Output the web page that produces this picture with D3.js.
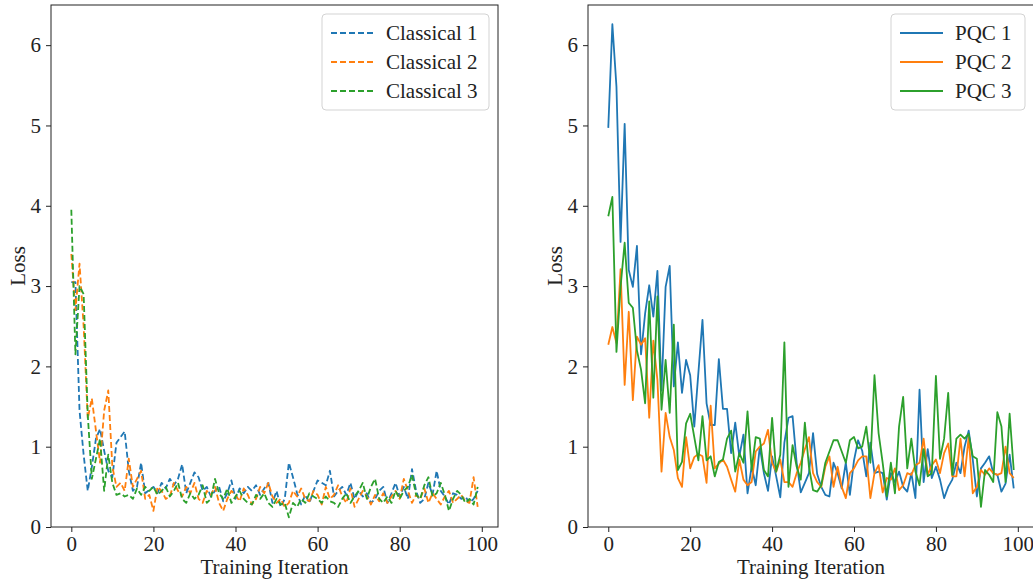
<!DOCTYPE html>
<html>
<head>
<meta charset="utf-8">
<script src="https://cdn.jsdelivr.net/npm/d3@7"></script>
<style>
  body { margin: 0; background: #fff; }
  svg { display: block; }
  .axis text { font-family: "Liberation Serif", "DejaVu Serif", serif; font-size: 21px; fill: #222; }
  .axis path, .axis line { stroke: #222; stroke-width: 1; }
  .title { font-family: "Liberation Serif", "DejaVu Serif", serif; font-size: 21px; fill: #222; }
  .legend text { font-family: "Liberation Serif", "DejaVu Serif", serif; font-size: 21px; fill: #222; }
</style>
</head>
<body>
<div id="vis"></div>
<script>
// Iterations 0..99
var iterations = d3.range(100);

// Left panel: classical models (dashed)
var classical1 = [3.05, 3.05, 1.45, 0.9, 0.45, 0.75, 1.1, 1.22, 0.95, 0.7, 0.62, 1.05, 1.12, 1.19, 0.7, 0.45, 0.5, 0.8, 0.42, 0.46,
    0.5, 0.42, 0.55, 0.48, 0.6, 0.52, 0.6, 0.78, 0.42, 0.55, 0.68, 0.62, 0.45, 0.5, 0.38, 0.45, 0.5, 0.32, 0.42, 0.58,
    0.35, 0.48, 0.42, 0.5, 0.45, 0.52, 0.4, 0.48, 0.55, 0.3, 0.45, 0.25, 0.35, 0.8, 0.62, 0.42, 0.28, 0.4, 0.3, 0.45,
    0.58, 0.55, 0.52, 0.7, 0.38, 0.45, 0.5, 0.4, 0.55, 0.35, 0.45, 0.38, 0.42, 0.3, 0.35, 0.45, 0.5, 0.3, 0.42, 0.55,
    0.38, 0.5, 0.35, 0.72, 0.45, 0.3, 0.35, 0.55, 0.4, 0.7, 0.45, 0.38, 0.28, 0.42, 0.4, 0.35, 0.38, 0.3, 0.35, 0.45];
var classical2 = [3.4, 2.7, 3.28, 2.5, 1.35, 1.6, 1.2, 0.8, 1.45, 1.7, 0.75, 0.5, 0.55, 0.45, 0.85, 0.5, 0.6, 0.7, 0.35, 0.4,
    0.2, 0.5, 0.45, 0.35, 0.38, 0.55, 0.45, 0.38, 0.5, 0.42, 0.55, 0.35, 0.3, 0.45, 0.4, 0.5, 0.3, 0.2, 0.35, 0.45,
    0.4, 0.32, 0.48, 0.4, 0.28, 0.35, 0.5, 0.42, 0.55, 0.38, 0.3, 0.35, 0.25, 0.3, 0.45, 0.38, 0.48, 0.35, 0.32, 0.45,
    0.4, 0.28, 0.5, 0.35, 0.4, 0.52, 0.38, 0.3, 0.48, 0.25, 0.35, 0.45, 0.38, 0.28, 0.4, 0.32, 0.42, 0.3, 0.38, 0.45,
    0.35, 0.6, 0.45, 0.3, 0.4, 0.35, 0.48, 0.3, 0.42, 0.35, 0.28, 0.38, 0.45, 0.3, 0.35, 0.4, 0.32, 0.3, 0.62, 0.25];
var classical3 = [3.95, 2.15, 3.0, 2.9, 1.4, 0.6, 0.85, 1.1, 0.45, 0.9, 0.55, 0.4, 0.42, 0.38, 0.4, 0.35, 0.48, 0.4, 0.5, 0.45,
    0.5, 0.4, 0.45, 0.5, 0.38, 0.45, 0.55, 0.35, 0.3, 0.42, 0.35, 0.4, 0.52, 0.3, 0.35, 0.6, 0.42, 0.35, 0.48, 0.3,
    0.38, 0.45, 0.35, 0.3, 0.28, 0.4, 0.35, 0.42, 0.3, 0.25, 0.35, 0.28, 0.3, 0.12, 0.3, 0.25, 0.35, 0.3, 0.42, 0.38,
    0.35, 0.3, 0.38, 0.32, 0.3, 0.25, 0.35, 0.42, 0.3, 0.38, 0.45, 0.55, 0.35, 0.5, 0.6, 0.35, 0.3, 0.38, 0.3, 0.45,
    0.35, 0.45, 0.5, 0.65, 0.4, 0.35, 0.52, 0.62, 0.38, 0.42, 0.55, 0.4, 0.2, 0.35, 0.45, 0.4, 0.3, 0.35, 0.28, 0.5];

// Right panel: PQC models (solid)
var pqc1 = [4.97, 6.26, 5.48, 3.55, 5.02, 3.2, 2.99, 3.5, 2.15, 2.66, 3.01, 2.62, 3.19, 1.7, 2.99, 3.25, 1.75, 2.3, 1.67, 2.08,
    1.89, 1.25, 1.92, 2.58, 1.54, 1.27, 1.27, 2.09, 1.47, 1.47, 0.92, 1.3, 0.88, 1.15, 0.42, 0.75, 0.52, 1.0, 0.67, 0.45,
    0.88, 0.63, 0.37, 1.05, 1.36, 1.38, 0.8, 0.43, 0.55, 0.67, 1.17, 0.66, 0.5, 0.4, 0.38, 0.8, 0.67, 0.48, 0.8, 0.4,
    0.83, 1.08, 0.95, 0.63, 1.05, 0.67, 0.69, 0.67, 0.34, 0.67, 0.56, 0.69, 0.5, 0.44, 0.67, 0.36, 1.71, 0.56, 0.97, 0.61,
    0.75, 0.59, 0.36, 0.5, 0.59, 0.8, 0.67, 1.0, 1.2, 0.84, 0.38, 0.73, 0.8, 0.88, 0.67, 0.65, 0.44, 0.54, 0.9, 0.48];
var pqc2 = [2.27, 2.49, 2.29, 3.21, 1.77, 2.68, 1.58, 2.37, 2.27, 2.35, 1.36, 2.32, 1.83, 0.69, 1.42, 1.12, 0.96, 0.61, 0.5, 1.12,
    0.73, 0.87, 0.91, 0.88, 0.55, 1.51, 0.73, 0.79, 0.84, 0.75, 0.59, 0.44, 0.84, 0.59, 0.52, 0.56, 0.94, 1.0, 1.04, 1.21,
    0.8, 0.69, 0.84, 0.56, 0.56, 0.5, 0.67, 0.8, 0.97, 1.12, 0.67, 0.56, 0.5, 0.75, 0.88, 0.5, 0.75, 0.5, 0.36, 0.67,
    0.73, 0.83, 0.88, 0.88, 0.36, 0.67, 0.77, 0.43, 0.61, 0.59, 0.73, 0.46, 0.52, 0.67, 0.65, 0.77, 0.8, 1.1, 0.65, 0.77,
    0.84, 0.67, 0.92, 1.04, 0.63, 0.63, 1.1, 0.63, 1.12, 0.42, 0.5, 0.71, 0.65, 0.73, 0.67, 0.65, 0.67, 1.0, 0.67, 0.61];
var pqc3 = [3.87, 4.11, 2.18, 2.99, 3.54, 2.79, 2.73, 2.2, 1.96, 1.54, 2.81, 1.61, 2.87, 1.46, 2.08, 1.42, 2.52, 0.71, 0.81, 1.29,
    1.41, 1.12, 0.83, 1.38, 0.83, 0.88, 0.63, 0.81, 0.84, 1.1, 1.2, 0.69, 0.92, 0.8, 1.44, 0.71, 1.12, 1.1, 0.71, 0.63,
    1.36, 0.69, 0.9, 2.3, 0.5, 1.02, 0.75, 0.59, 1.3, 0.75, 0.46, 0.44, 0.52, 0.8, 0.94, 1.08, 1.08, 0.94, 0.8, 1.08,
    1.12, 0.98, 1.0, 1.25, 0.8, 1.89, 1.17, 0.8, 0.38, 0.8, 0.42, 1.25, 1.62, 0.73, 1.1, 0.69, 0.52, 0.97, 0.63, 0.67,
    1.88, 0.85, 1.1, 1.67, 0.65, 1.1, 1.15, 1.1, 1.16, 0.88, 0.85, 0.25, 0.71, 0.65, 0.56, 1.43, 1.25, 0.56, 1.41, 0.71];

var classicalNames = ['Classical 1', 'Classical 2', 'Classical 3'];
var pqcNames = ['PQC 1', 'PQC 2', 'PQC 3'];
var xTicks = [0, 20, 40, 60, 80, 100];
var yTicks = [0, 1, 2, 3, 4, 5, 6];
var colors = ['#1f77b4', '#ff7f0e', '#2ca02c'];

var width = 1033;
var height = 580;

var svg = d3.select('#vis')
    .append('svg')
    .attr('width', width)
    .attr('height', height);

svg.append('rect').attr('width', width).attr('height', height).attr('fill', '#fff');

// Draw one panel (axes, lines, legend)
var drawPanel = function (opts) {
    var drawWidth = opts.right - opts.left;
    var drawHeight = opts.bottom - opts.top;

    var xScale = d3.scaleLinear().domain([-4.95, 103.95]).range([0, drawWidth]);
    var yScale = d3.scaleLinear().domain([0, 6.5]).range([drawHeight, 0]);

    var g = svg.append('g')
        .attr('transform', 'translate(' + opts.left + ',' + opts.top + ')');

    var line = d3.line()
        .x(function (d, i) { return xScale(iterations[i]); })
        .y(function (d) { return yScale(d); });

    opts.series.forEach(function (s, i) {
        g.append('path')
            .datum(s)
            .attr('d', line)
            .attr('fill', 'none')
            .attr('stroke', colors[i])
            .attr('stroke-width', 1.8)
            .attr('stroke-linejoin', 'round')
            .attr('stroke-dasharray', opts.dashed ? '6,3' : null);
    });

    var xAxis = d3.axisBottom(xScale).tickValues(xTicks).tickSize(5).tickPadding(4).tickFormat(d3.format('d'));
    var yAxis = d3.axisLeft(yScale).tickValues(yTicks).tickSize(5).tickPadding(5).tickFormat(d3.format('d'));

    g.append('g')
        .attr('class', 'axis')
        .attr('transform', 'translate(0,' + drawHeight + ')')
        .call(xAxis)
        .call(function (a) { a.select('.domain').remove(); });
    g.append('g')
        .attr('class', 'axis')
        .call(yAxis)
        .call(function (a) { a.select('.domain').remove(); });

    // Spines
    g.append('rect')
        .attr('width', drawWidth)
        .attr('height', drawHeight)
        .attr('fill', 'none')
        .attr('stroke', '#222')
        .attr('stroke-width', 1);

    svg.append('text')
        .attr('class', 'title')
        .attr('text-anchor', 'middle')
        .attr('transform', 'translate(' + (opts.left + drawWidth / 2) + ',' + (opts.bottom + 47) + ')')
        .text('Training Iteration');

    svg.append('text')
        .attr('class', 'title')
        .attr('text-anchor', 'middle')
        .attr('transform', 'translate(' + (opts.left - 26) + ',' + (opts.top + drawHeight / 2) + ') rotate(-90)')
        .text('Loss');

    // Legend
    var lg = svg.append('g')
        .attr('class', 'legend')
        .attr('transform', 'translate(' + opts.legendX + ',14)');
    lg.append('rect')
        .attr('width', opts.legendW)
        .attr('height', 96)
        .attr('rx', 4)
        .attr('fill', '#fff')
        .attr('fill-opacity', 0.8)
        .attr('stroke', '#d3d3d3');
    opts.names.forEach(function (name, i) {
        var yy = 19 + i * 29;
        lg.append('line')
            .attr('x1', 9).attr('x2', 52)
            .attr('y1', yy).attr('y2', yy)
            .attr('stroke', colors[i])
            .attr('stroke-width', 1.8)
            .attr('stroke-dasharray', opts.dashed ? '6,3' : null);
        lg.append('text')
            .attr('x', 64)
            .attr('y', yy)
            .attr('dy', '0.35em')
            .text(name);
    });
};

drawPanel({ left: 51, right: 498, top: 5, bottom: 527, series: [classical1, classical2, classical3],
    names: classicalNames, dashed: true, legendX: 322, legendW: 167 });
drawPanel({ left: 588, right: 1034, top: 5, bottom: 527, series: [pqc1, pqc2, pqc3],
    names: pqcNames, dashed: false, legendX: 891, legendW: 134 });
</script>
</body>
</html>
